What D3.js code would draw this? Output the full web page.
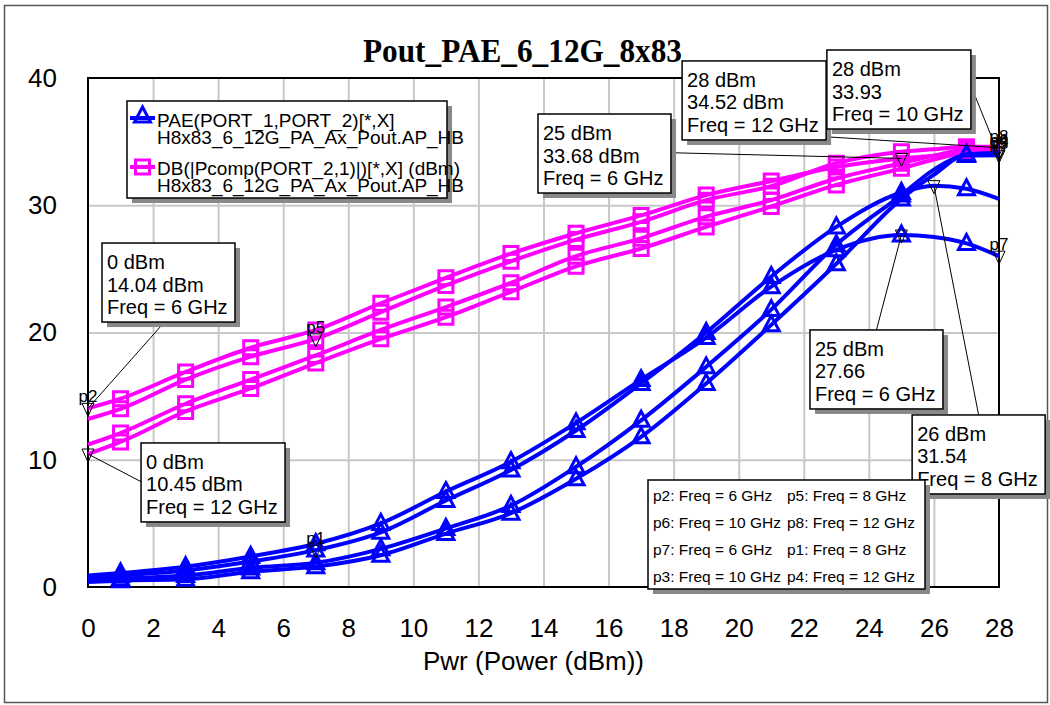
<!DOCTYPE html>
<html>
<head>
<meta charset="utf-8">
<script src="https://cdn.jsdelivr.net/npm/d3@7"></script>
<style>
body { margin: 0; background: #fff; }
text { font-family: Arial, "Liberation Sans", sans-serif; fill: #000; }
</style>
</head>
<body>
<svg id="chart"></svg>
<script>
// swept input power (dBm) and the four frequencies
var pwr = [0, 1, 3, 5, 7, 9, 11, 13, 15, 17, 19, 21, 23, 25, 26, 27, 28];
var freqs = ["6 GHz", "8 GHz", "10 GHz", "12 GHz"];

// DB(|Pcomp(PORT_2,1)|) in dBm, one array per frequency
var pout6  = [14.04, 14.8, 16.9, 18.8, 20.2, 22.3, 24.3, 26.2, 27.8, 29.2, 30.8, 31.9, 33.0, 33.68, 33.9, 34.1, 34.2];
var pout8  = [13.2, 14.0, 16.3, 18.1, 19.5, 21.6, 23.7, 25.6, 27.3, 28.7, 30.4, 31.5, 33.3, 34.2, 34.4, 34.6, 34.6];
var pout10 = [11.2, 12.1, 14.4, 16.3, 18.2, 20.2, 22.0, 23.9, 26.0, 27.4, 29.1, 30.4, 32.1, 33.3, 33.9, 34.4, 34.5];
var pout12 = [10.45, 11.4, 13.8, 15.6, 17.6, 19.5, 21.2, 23.2, 25.2, 26.6, 28.3, 29.9, 31.6, 32.9, 33.6, 34.2, 34.52];

// PAE(PORT_1,PORT_2) in %
var pae6  = [0.9, 1.1, 1.6, 2.4, 3.4, 5.0, 7.5, 9.85, 12.9, 16.3, 19.6, 23.6, 26.5, 27.66, 27.5, 27.0, 26.0];
var pae8  = [0.7, 0.9, 1.3, 2.0, 2.9, 4.3, 6.8, 9.2, 12.3, 16.0, 20.0, 24.4, 28.3, 31.0, 31.54, 31.3, 30.5];
var pae10 = [0.5, 0.65, 0.9, 1.5, 1.9, 3.0, 4.6, 6.4, 9.45, 13.1, 17.3, 21.8, 26.9, 30.8, 32.8, 33.9, 33.93];
var pae12 = [0.4, 0.5, 0.6, 1.2, 1.6, 2.5, 4.2, 5.8, 8.5, 11.8, 16.0, 20.6, 25.4, 30.5, 32.4, 34.0, 34.1];

var xTicks = [0, 2, 4, 6, 8, 10, 12, 14, 16, 18, 20, 22, 24, 26, 28];
var yTicks = [0, 10, 20, 30, 40];

// marker points (name, input power, value)
var markers = [
  { name: "p2", pwr: 0, val: 14.04 },
  { name: "", pwr: 0, val: 10.45 },
  { name: "p5", pwr: 7, val: 19.5 },
  { name: "p1", pwr: 7, val: 2.9 },
  { name: "", pwr: 25, val: 33.68 },
  { name: "", pwr: 25, val: 27.66 },
  { name: "", pwr: 26, val: 31.54 },
  { name: "p7", pwr: 28, val: 26.0 },
  { name: "p6", pwr: 28, val: 34.2 },
  { name: "p8", pwr: 28, val: 34.52 },
  { name: "p3", pwr: 28, val: 33.93 },
  { name: "p4", pwr: 28, val: 34.1 }
];

// marker readouts
var callouts = [
  { pwr: 0, val: 14.04, lines: ["0 dBm", "14.04 dBm", "Freq = 6 GHz"] },
  { pwr: 0, val: 10.45, lines: ["0 dBm", "10.45 dBm", "Freq = 12 GHz"] },
  { pwr: 25, val: 33.68, lines: ["25 dBm", "33.68 dBm", "Freq = 6 GHz"] },
  { pwr: 28, val: 34.52, lines: ["28 dBm", "34.52 dBm", "Freq = 12 GHz"] },
  { pwr: 28, val: 33.93, lines: ["28 dBm", "33.93", "Freq = 10 GHz"] },
  { pwr: 25, val: 27.66, lines: ["25 dBm", "27.66", "Freq = 6 GHz"] },
  { pwr: 26, val: 31.54, lines: ["26 dBm", "31.54", "Freq = 8 GHz"] }
];
// where each readout box sits (top-left in chart units) and where its leader leaves the box
var calloutPos = [
  { bx: 0.43, by: 27.03, ax: 0.47, ay: 1 },
  { bx: 1.63, by: 11.32, ax: 0, ay: 0.49 },
  { bx: 13.83, by: 37.17, ax: 1, ay: 0.49 },
  { bx: 18.26, by: 41.34, ax: 1, ay: 0.96 },
  { bx: 22.71, by: 42.20, ax: 1, ay: 0.45 },
  { bx: 22.19, by: 20.20, ax: 0.5, ay: 0 },
  { bx: 25.33, by: 13.52, ax: 0.5, ay: 0 }
];

var markerLegend = [
  ["p2: Freq = 6 GHz", "p5: Freq = 8 GHz"],
  ["p6: Freq = 10 GHz", "p8: Freq = 12 GHz"],
  ["p7: Freq = 6 GHz", "p1: Freq = 8 GHz"],
  ["p3: Freq = 10 GHz", "p4: Freq = 12 GHz"]
];

var W = 1050, H = 705;
var plotL = 88, plotR = 999, plotT = 78, plotB = 587;
var magenta = "#ff00ff", blue = "#0000ff";

var svg = d3.select("#chart").attr("width", W).attr("height", H);

var x = d3.scaleLinear().domain([0, 28]).range([plotL, plotR]);
var y = d3.scaleLinear().domain([0, 40]).range([plotB, plotT]);

// outer frame
svg.append("rect")
  .attr("x", 4.5).attr("y", 5.5)
  .attr("width", 1043).attr("height", 697)
  .attr("fill", "#fff").attr("stroke", "#555").attr("stroke-width", 1.5);

svg.append("text")
  .attr("x", 522.5).attr("y", 62)
  .attr("text-anchor", "middle")
  .attr("textLength", 319).attr("lengthAdjust", "spacingAndGlyphs")
  .style("font-family", "'Liberation Serif', 'Times New Roman', serif")
  .style("font-weight", "bold").style("font-size", "34px")
  .text("Pout_PAE_6_12G_8x83");

// grid
var gx = svg.append("g").attr("transform", "translate(0," + plotB + ")")
  .call(d3.axisBottom(x).tickValues(xTicks.slice(1, -1)).tickSize(-(plotB - plotT)).tickFormat(""));
var gy = svg.append("g").attr("transform", "translate(" + plotL + ",0)")
  .call(d3.axisLeft(y).tickValues(yTicks.slice(1, -1)).tickSize(-(plotR - plotL)).tickFormat(""));
[gx, gy].forEach(function(g) {
  g.select(".domain").remove();
  g.selectAll("line").attr("stroke", "#c8c8c8").attr("stroke-width", 2);
});

// tick labels
var ax = svg.append("g").attr("transform", "translate(0," + plotB + ")")
  .call(d3.axisBottom(x).tickValues(xTicks).tickSize(0).tickPadding(32));
var ay = svg.append("g").attr("transform", "translate(" + plotL + ",0)")
  .call(d3.axisLeft(y).tickValues(yTicks).tickSize(0).tickPadding(31));
[ax, ay].forEach(function(g) {
  g.select(".domain").remove();
  g.selectAll("text").style("font-size", "26px").style("font-family", "Arial, 'Liberation Sans', sans-serif").attr("fill", "#000");
});

svg.append("text")
  .attr("x", 533.5).attr("y", 670)
  .attr("text-anchor", "middle")
  .style("font-size", "26px")
  .text("Pwr (Power (dBm))");

svg.append("rect")
  .attr("x", plotL).attr("y", plotT)
  .attr("width", plotR - plotL).attr("height", plotB - plotT)
  .attr("fill", "none").attr("stroke", "#000").attr("stroke-width", 2);

// curves
var line = d3.line()
  .x(function(d, i) { return x(pwr[i]); })
  .y(function(d) { return y(d); })
  .curve(d3.curveMonotoneX);

var oddIdx = d3.range(pwr.length).filter(function(i) { return pwr[i] % 2 == 1; });

function square(cx, cy) {
  return "M" + (cx - 7) + "," + (cy - 7) + "h14v14h-14z";
}
function tri(cx, cy) {
  return "M" + cx + "," + (cy - 9) + "L" + (cx + 8) + "," + (cy + 6) + "L" + (cx - 8) + "," + (cy + 6) + "Z";
}

function drawSeries(vals, color, shape) {
  var g = svg.append("g");
  g.append("path")
    .attr("d", line(vals))
    .attr("fill", "none").attr("stroke", color).attr("stroke-width", 4);
  g.selectAll("path.m")
    .data(oddIdx)
    .enter().append("path")
    .attr("class", "m")
    .attr("d", function(i) { return shape(x(pwr[i]), y(vals[i])); })
    .attr("fill", "none").attr("stroke", color).attr("stroke-width", 3);
}

[pout6, pout8, pout10, pout12].forEach(function(v) { drawSeries(v, magenta, square); });
[pae6, pae8, pae10, pae12].forEach(function(v) { drawSeries(v, blue, tri); });

// marker triangles
var mk = svg.append("g");
mk.selectAll("path")
  .data(markers)
  .enter().append("path")
  .attr("d", function(d) {
    var cx = x(d.pwr), cy = y(d.val);
    return "M" + (cx - 6) + "," + (cy - 5) + "L" + (cx + 6) + "," + (cy - 5) + "L" + cx + "," + (cy + 8) + "Z";
  })
  .attr("fill", "none").attr("stroke", "#000").attr("stroke-width", 1);
mk.selectAll("text")
  .data(markers.filter(function(d) { return d.name; }))
  .enter().append("text")
  .attr("x", function(d) { return x(d.pwr); })
  .attr("y", function(d) { return y(d.val) - 6; })
  .attr("text-anchor", "middle")
  .style("font-size", "17px")
  .text(function(d) { return d.name; });

// readout boxes
var boxes = svg.append("g");
callouts.forEach(function(c, i) {
  var p = calloutPos[i];
  var bx = x(p.bx), by = y(p.by);
  var g = boxes.append("g");
  var lnk = g.append("line").attr("stroke", "#000").attr("stroke-width", 1);
  var sh = g.append("rect").attr("fill", "#888");
  var r = g.append("rect").attr("fill", "#fff").attr("stroke", "#000").attr("stroke-width", 1.5);
  var wmax = 0;
  c.lines.forEach(function(t, j) {
    var tx = g.append("text")
      .attr("x", bx + 5).attr("y", by + 26 + j * 22.5)
      .style("font-size", "20px")
      .text(t);
    wmax = Math.max(wmax, tx.node().getComputedTextLength());
  });
  var bw = Math.round(wmax + 12), bh = 79;
  r.attr("x", bx).attr("y", by).attr("width", bw).attr("height", bh);
  sh.attr("x", bx + 5).attr("y", by + 5).attr("width", bw).attr("height", bh);
  lnk.attr("x1", bx + p.ax * bw).attr("y1", by + p.ay * bh)
    .attr("x2", x(c.pwr)).attr("y2", y(c.val));
});

// series legend
var lg = svg.append("g");
lg.append("rect").attr("x", 132).attr("y", 106).attr("width", 320).attr("height", 97).attr("fill", "#888");
lg.append("rect").attr("x", 127).attr("y", 101).attr("width", 320).attr("height", 97)
  .attr("fill", "#fff").attr("stroke", "#000").attr("stroke-width", 1.5);
lg.append("line").attr("x1", 130).attr("x2", 155).attr("y1", 118).attr("y2", 118)
  .attr("stroke", blue).attr("stroke-width", 4);
lg.append("path").attr("d", tri(142.5, 116)).attr("fill", "none").attr("stroke", blue).attr("stroke-width", 3);
lg.append("line").attr("x1", 130).attr("x2", 155).attr("y1", 167).attr("y2", 167)
  .attr("stroke", magenta).attr("stroke-width", 4);
lg.append("path").attr("d", square(142.5, 167)).attr("fill", "none").attr("stroke", magenta).attr("stroke-width", 3);
var legendText = [
  ["PAE(PORT_1,PORT_2)[*,X]", 127],
  ["H8x83_6_12G_PA_Ax_Pout.AP_HB", 143.5],
  ["DB(|Pcomp(PORT_2,1)|)[*,X] (dBm)", 175],
  ["H8x83_6_12G_PA_Ax_Pout.AP_HB", 191.5]
];
legendText.forEach(function(t) {
  lg.append("text").attr("x", 157).attr("y", t[1]).style("font-size", "19px").text(t[0]);
});

// marker legend
var ml = svg.append("g");
ml.append("rect").attr("x", 653).attr("y", 485).attr("width", 277).attr("height", 109).attr("fill", "#888");
ml.append("rect").attr("x", 648).attr("y", 480).attr("width", 277).attr("height", 109)
  .attr("fill", "#fff").attr("stroke", "#000").attr("stroke-width", 1.5);
markerLegend.forEach(function(row, i) {
  row.forEach(function(t, j) {
    ml.append("text")
      .attr("x", j == 0 ? 653 : 787)
      .attr("y", 500.5 + i * 27.2)
      .style("font-size", "15.5px")
      .text(t);
  });
});
</script>
</body>
</html>
